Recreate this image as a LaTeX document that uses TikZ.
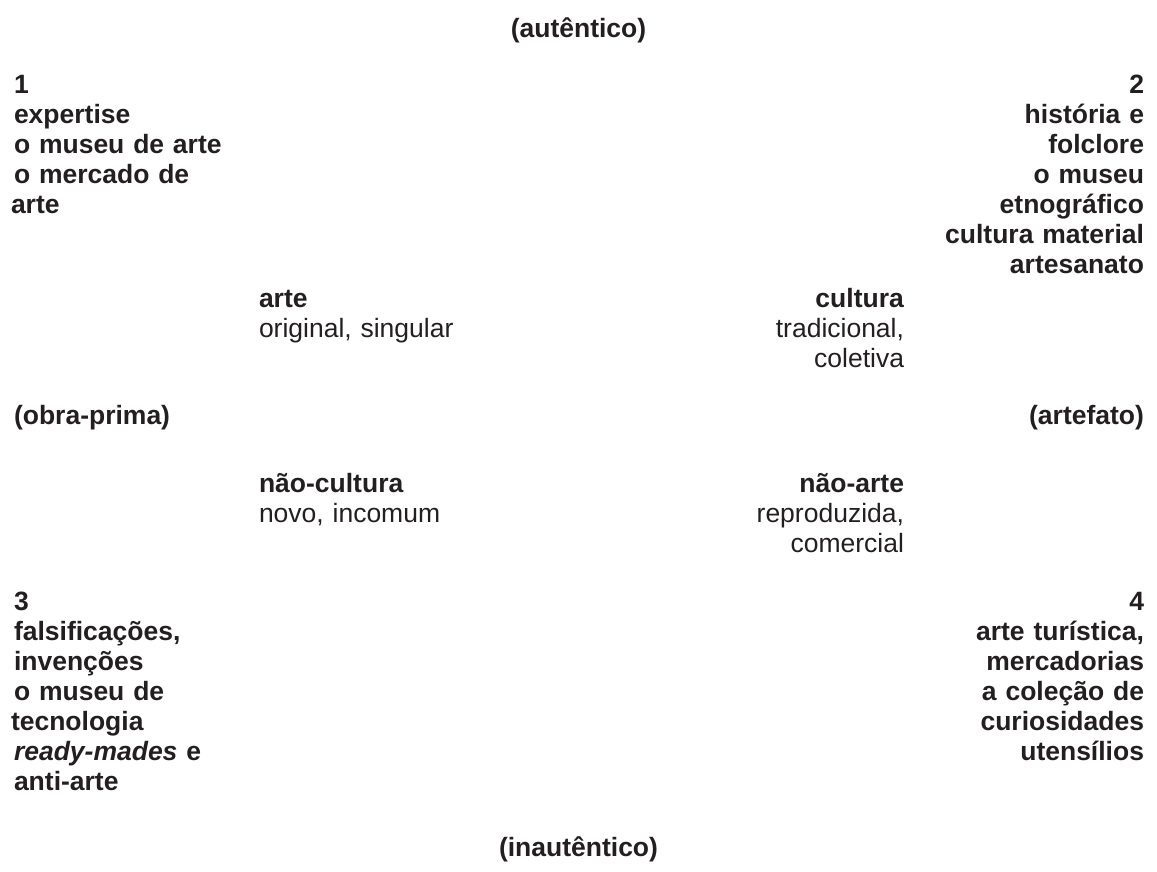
\documentclass[tikz,border=0pt]{standalone}
\usepackage{fontspec}
\setmainfont{Liberation Sans}
\definecolor{ink}{HTML}{231F20}
\tikzset{
  txt/.style={inner sep=0pt, outer sep=0pt, text=ink, font=\fontsize{26.5pt}{30pt}\selectfont},
  hd/.style={txt, font=\fontsize{26.5pt}{30pt}\selectfont\bfseries},
  lblock/.style={hd, text width=300pt, align=left, anchor=base west},
  rblock/.style={hd, text width=300pt, align=right, anchor=base east},
  lmid/.style={txt, text width=260pt, align=left, anchor=base west},
  rmid/.style={txt, text width=260pt, align=right, anchor=base east}
}
\newcommand{\ind}{\hspace*{3pt}}
\begin{document}
\begin{tikzpicture}[x=1pt,y=-1pt]
\useasboundingbox (0,0) rectangle (1157,872);
\node[hd, anchor=base] (aut) at (578.5,38) {(autêntico)};
\node[lblock] (q1) at (11,94) {\ind 1\\ \ind expertise\\ \ind o museu de arte\\ \ind o mercado de\\ arte};
\node[rblock] (q2) at (1144,94) {2\\ história e\\ folclore\\ o museu\\ etnográfico\\ cultura material\\ artesanato};
\node[lmid] (arte) at (259,307) {\textbf{arte}\\ original, singular};
\node[rmid] (cult) at (904,307) {\textbf{cultura}\\ tradicional,\\ coletiva};
\node[hd, anchor=base west] (obra) at (14,424) {(obra-prima)};
\node[hd, anchor=base east] (artef) at (1144,424) {(artefato)};
\node[lmid] (ncult) at (259,492) {\textbf{não-cultura}\\ novo, incomum};
\node[rmid] (narte) at (904,492) {\textbf{não-arte}\\ reproduzida,\\ comercial};
\node[lblock] (q3) at (11,610) {\ind 3\\ \ind falsificações,\\ \ind invenções\\ \ind o museu de\\ tecnologia\\ \ind\textit{ready-mades} e\\ \ind anti-arte};
\node[rblock] (q4) at (1144,610) {4\\ arte turística,\\ mercadorias\\ a coleção de\\ curiosidades\\ utensílios};
\node[hd, anchor=base] (inaut) at (578.5,856) {(inautêntico)};
\end{tikzpicture}
\end{document}
